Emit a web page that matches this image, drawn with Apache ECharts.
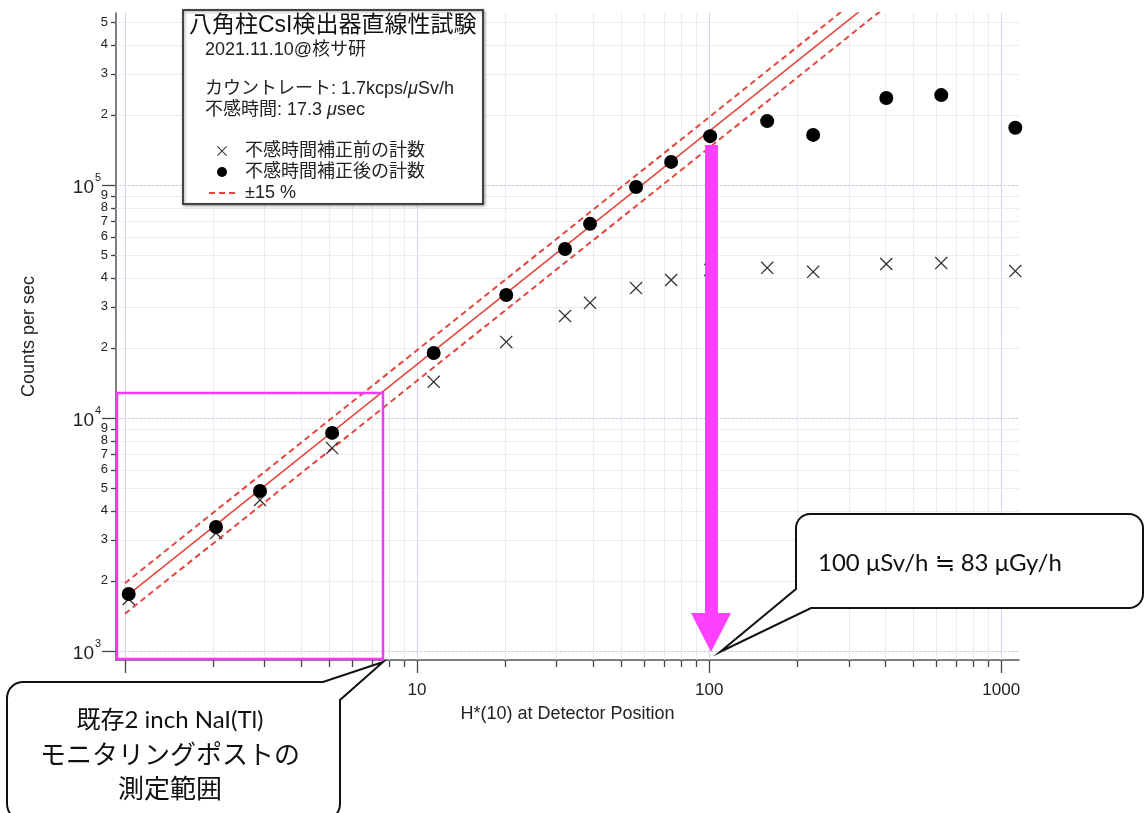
<!DOCTYPE html>
<html>
<head>
<meta charset="utf-8">
<script src="https://cdn.jsdelivr.net/npm/echarts@6/dist/echarts.min.js"></script>
<style>
html,body{margin:0;padding:0;background:#fff;}
#chart{width:1146px;height:813px;}
</style>
</head>
<body>
<div id="chart"></div>
<script>
// ---- data ----
const doseRate = [1.03, 2.05, 2.90, 5.12, 11.4, 20.2, 32.1, 39.1, 56.2, 74.1, 100.8, 158, 227, 404, 623, 1117];
const countsBefore = [1672, 3206, 4446, 7430, 14300, 21200, 27400, 31200, 36100, 39100, 43200, 44100, 42400, 45800, 46200, 42700];
const countsAfter = [1757, 3404, 4866, 8630, 19000, 33700, 53100, 68100, 98000, 125600, 162000, 188000, 164000, 236000, 243000, 176000];
// linearity line 1.7 kcps per uSv/h and its +-15 % band (end points)
const fitX = [1, 400];
const fitCenter = [1700, 680000];
const fitUpper = [1955, 782000];
const fitLower = [1445, 578000];
// axis ticks
const xMajorTicks = [1, 10, 100, 1000];
const xMajorLabels = ['1', '10', '100', '1000'];
const xMinorTicks = [2, 3, 4, 5, 6, 7, 8, 9, 20, 30, 40, 50, 60, 70, 80, 90, 200, 300, 400, 500, 600, 700, 800, 900];
const yMajorTicks = [1000, 10000, 100000];
const yMajorExps = ['3', '4', '5'];
const yMinorTicks = [2000, 3000, 4000, 5000, 6000, 7000, 8000, 9000,
  20000, 30000, 40000, 50000, 60000, 70000, 80000, 90000,
  200000, 300000, 400000, 500000];
const yMinorLabels = ['2', '3', '4', '5', '6', '7', '8', '9',
  '2', '3', '4', '5', '6', '7', '8', '9',
  '2', '3', '4', '5'];

const X_MIN = 0.932, X_MAX = 1150, Y_MIN = 915, Y_MAX = 547000;
const SANS = "'Liberation Sans', 'Noto Sans CJK JP', sans-serif";
const JP = "'Noto Sans CJK JP', sans-serif";
const CALLOUT = "Lato, 'Noto Sans CJK JP', sans-serif";
const RED = '#e5473c';
const GRID_MINOR = '#ebebf5';
const GRID_MAJOR = '#d4d4ea';
const TICK = '#444';

const px = v => Math.round(v) + 0.5;

function arcPts(cx, cy, r, a0, a1) {
  const pts = [];
  const n = 8;
  for (let i = 0; i <= n; i++) {
    const a = (a0 + (a1 - a0) * i / n) * Math.PI / 180;
    pts.push([cx + r * Math.cos(a), cy + r * Math.sin(a)]);
  }
  return pts;
}

function xTickRenderer(major) {
  return function (params, api) {
    const v = api.value(0);
    const b = api.coord([v, Y_MIN]);
    const t = api.coord([v, Y_MAX]);
    const x = px(b[0]);
    const children = [
      {type: 'line', shape: {x1: x, y1: t[1], x2: x, y2: b[1]}, style: {stroke: major ? GRID_MAJOR : GRID_MINOR, lineWidth: 1}},
      {type: 'line', shape: {x1: x, y1: b[1], x2: x, y2: b[1] + (major ? 13 : 7)}, style: {stroke: TICK, lineWidth: 1.3}}
    ];
    if (major) {
      children.push({type: 'text', x: b[0], y: b[1] + 30,
        style: {text: xMajorLabels[params.dataIndex], fill: '#222', fontSize: 17, fontFamily: SANS, align: 'center', verticalAlign: 'middle'}});
    }
    return {type: 'group', children: children};
  };
}

function yTickRenderer(major) {
  return function (params, api) {
    const v = api.value(1);
    const l = api.coord([X_MIN, v]);
    const r = api.coord([X_MAX, v]);
    const y = px(l[1]);
    const children = [
      {type: 'line', shape: {x1: l[0], y1: y, x2: r[0], y2: y}, style: {stroke: major ? '#e6e6f2' : GRID_MINOR, lineWidth: 1}},
      {type: 'line', shape: {x1: l[0] - (major ? 14 : 5), y1: y, x2: l[0], y2: y}, style: {stroke: TICK, lineWidth: 1.3}}
    ];
    if (major) {
      children.push({type: 'line', shape: {x1: l[0], y1: y, x2: r[0], y2: y}, style: {stroke: '#b8b8d8', lineWidth: 1, lineDash: [1, 3]}});
      children.push({type: 'text', x: l[0] - 22, y: l[1] + 3,
        style: {text: '10', fill: '#222', fontSize: 19, fontFamily: SANS, align: 'right', verticalAlign: 'middle'}});
      children.push({type: 'text', x: l[0] - 21, y: l[1] - 7,
        style: {text: yMajorExps[params.dataIndex], fill: '#222', fontSize: 11, fontFamily: SANS, align: 'left', verticalAlign: 'middle'}});
    } else {
      children.push({type: 'text', x: l[0] - 8, y: l[1],
        style: {text: yMinorLabels[params.dataIndex], fill: '#222', fontSize: 13, fontFamily: SANS, align: 'right', verticalAlign: 'middle'}});
    }
    return {type: 'group', children: children};
  };
}

const crossPath = 'path://M0,0.7L0.7,0L5,4.3L9.3,0L10,0.7L5.7,5L10,9.3L9.3,10L5,5.7L0.7,10L0,9.3L4.3,5Z';

// callout outlines (annotation overlays)
const calloutRight = [].concat(
  arcPts(810, 528, 14, 180, 270),
  arcPts(1129, 528, 14, 270, 360),
  arcPts(1129, 594, 14, 0, 90),
  [[811, 608], [720, 652], [796, 589]]
);
const calloutLeft = [].concat(
  arcPts(23, 698, 16, 180, 270),
  [[323, 682], [383, 662], [340, 700]],
  arcPts(324, 804, 16, 0, 90),
  arcPts(23, 804, 16, 90, 180)
);

const chart = echarts.init(document.getElementById('chart'), null, {renderer: 'canvas'});
chart.setOption({
  animation: false,
  backgroundColor: '#fff',
  grid: {left: 116, right: 127, top: 13, bottom: 153},
  xAxis: {
    type: 'log', logBase: 10, min: X_MIN, max: X_MAX,
    axisLine: {onZero: false, lineStyle: {color: '#555', width: 1.5}},
    axisTick: {show: false}, axisLabel: {show: false}, splitLine: {show: false},
    name: 'H*(10) at Detector Position', nameLocation: 'middle', nameGap: 45,
    nameTextStyle: {fontSize: 18, fontFamily: SANS, color: '#222'}
  },
  yAxis: {
    type: 'log', logBase: 10, min: Y_MIN, max: Y_MAX,
    axisLine: {onZero: false, lineStyle: {color: '#555', width: 1.5}},
    axisTick: {show: false}, axisLabel: {show: false}, splitLine: {show: false},
    name: 'Counts per sec', nameLocation: 'middle', nameGap: 78, nameRotate: 90,
    nameTextStyle: {fontSize: 18, fontFamily: SANS, color: '#222'}
  },
  legend: {
    data: [
      {name: '不感時間補正前の計数'},
      {name: '不感時間補正後の計数'},
      {name: '±15 %', itemStyle: {color: 'rgba(0,0,0,0)', borderWidth: 0, opacity: 0}}
    ],
    orient: 'vertical', left: 208, top: 142, padding: 0,
    itemWidth: 26, itemHeight: 10, itemGap: 3,
    selectedMode: false, z: 6,
    textStyle: {fontSize: 18, fontFamily: SANS, color: '#222', padding: [0, 0, 0, 5]}
  },
  series: [
    {type: 'custom', name: '_xminor', silent: true, clip: false, z: 1, renderItem: xTickRenderer(false), data: xMinorTicks.map(v => [v, Y_MIN])},
    {type: 'custom', name: '_xmajor', silent: true, clip: false, z: 1, renderItem: xTickRenderer(true), data: xMajorTicks.map(v => [v, Y_MIN])},
    {type: 'custom', name: '_yminor', silent: true, clip: false, z: 1, renderItem: yTickRenderer(false), data: yMinorTicks.map(v => [X_MIN, v])},
    {type: 'custom', name: '_ymajor', silent: true, clip: false, z: 1, renderItem: yTickRenderer(true), data: yMajorTicks.map(v => [X_MIN, v])},
    {type: 'line', name: '_fit', symbol: 'none', z: 2, lineStyle: {color: RED, width: 1.6},
      data: fitX.map((x, i) => [x, fitCenter[i]])},
    {type: 'line', name: '±15 %', symbol: 'none', z: 2, itemStyle: {color: RED}, lineStyle: {color: RED, width: 2, type: [6, 4]},
      data: fitX.map((x, i) => [x, fitUpper[i]])},
    {type: 'line', name: '±15 %', symbol: 'none', z: 2, itemStyle: {color: RED}, lineStyle: {color: RED, width: 2, type: [6, 4]},
      data: fitX.map((x, i) => [x, fitLower[i]])},
    {type: 'scatter', name: '不感時間補正前の計数', symbol: crossPath, symbolSize: 13, z: 3,
      itemStyle: {color: '#333', opacity: 1},
      data: doseRate.map((x, i) => [x, countsBefore[i]])},
    {type: 'scatter', name: '不感時間補正後の計数', symbol: 'circle', symbolSize: 14, z: 4,
      itemStyle: {color: '#000', opacity: 1},
      data: doseRate.map((x, i) => [x, countsAfter[i]])}
  ],
  graphic: [
    // legend / info box
    {type: 'rect', z: 3, shape: {x: 183, y: 10, width: 300, height: 194},
      style: {fill: '#fff', stroke: '#444', lineWidth: 2, shadowBlur: 3, shadowColor: 'rgba(0,0,0,0.35)', shadowOffsetX: 1, shadowOffsetY: 1}},
    {type: 'text', z: 6, x: 189, y: 26, style: {text: '八角柱CsI検出器直線性試験', fill: '#111', fontSize: 23, fontFamily: SANS, align: 'left', verticalAlign: 'middle'}},
    {type: 'text', z: 6, x: 205, y: 50, style: {text: '2021.11.10@核サ研', fill: '#222', fontSize: 18, fontFamily: SANS, align: 'left', verticalAlign: 'middle'}},
    {type: 'text', z: 6, x: 205, y: 89, style: {text: 'カウントレート: 1.7kcps/{i|μ}Sv/h', fill: '#222', fontSize: 18, fontFamily: SANS, align: 'left', verticalAlign: 'middle',
      rich: {i: {fontStyle: 'italic', fontSize: 18, fontFamily: SANS, fill: '#222'}}}},
    {type: 'text', z: 6, x: 205, y: 110, style: {text: '不感時間: 17.3 {i|μ}sec', fill: '#222', fontSize: 18, fontFamily: SANS, align: 'left', verticalAlign: 'middle',
      rich: {i: {fontStyle: 'italic', fontSize: 18, fontFamily: SANS, fill: '#222'}}}},
    // magenta measurement-range box
    {type: 'rect', z: 10, shape: {x: 117, y: 393, width: 266, height: 266},
      style: {fill: 'none', stroke: '#f53cf5', lineWidth: 2.5}},
    // magenta arrow
    {type: 'polygon', z: 10, shape: {points: [[705, 145], [718, 145], [718, 613], [731, 613], [711, 652], [691, 613], [705, 613]]},
      style: {fill: '#ff40ff'}},
    // callout right
    {type: 'polygon', z: 11, shape: {points: calloutRight},
      style: {fill: '#fff', stroke: '#111', lineWidth: 2}},
    {type: 'text', z: 12, x: 818, y: 563, style: {text: '100 μSv/h ≒ 83 μGy/h', fill: '#111', fontSize: 24, fontFamily: CALLOUT, align: 'left', verticalAlign: 'middle'}},
    // callout left bottom
    {type: 'polygon', z: 11, shape: {points: calloutLeft},
      style: {fill: '#fff', stroke: '#111', lineWidth: 2}},
    {type: 'text', z: 12, x: 170, y: 720, style: {text: '既存2 inch NaI(Tl)', fill: '#111', fontSize: 24, fontFamily: CALLOUT, align: 'center', verticalAlign: 'middle'}},
    {type: 'text', z: 12, x: 170, y: 754, style: {text: 'モニタリングポストの', fill: '#111', fontSize: 26, fontFamily: JP, align: 'center', verticalAlign: 'middle'}},
    {type: 'text', z: 12, x: 170, y: 788, style: {text: '測定範囲', fill: '#111', fontSize: 26, fontFamily: JP, align: 'center', verticalAlign: 'middle'}}
  ]
});
</script>
</body>
</html>
